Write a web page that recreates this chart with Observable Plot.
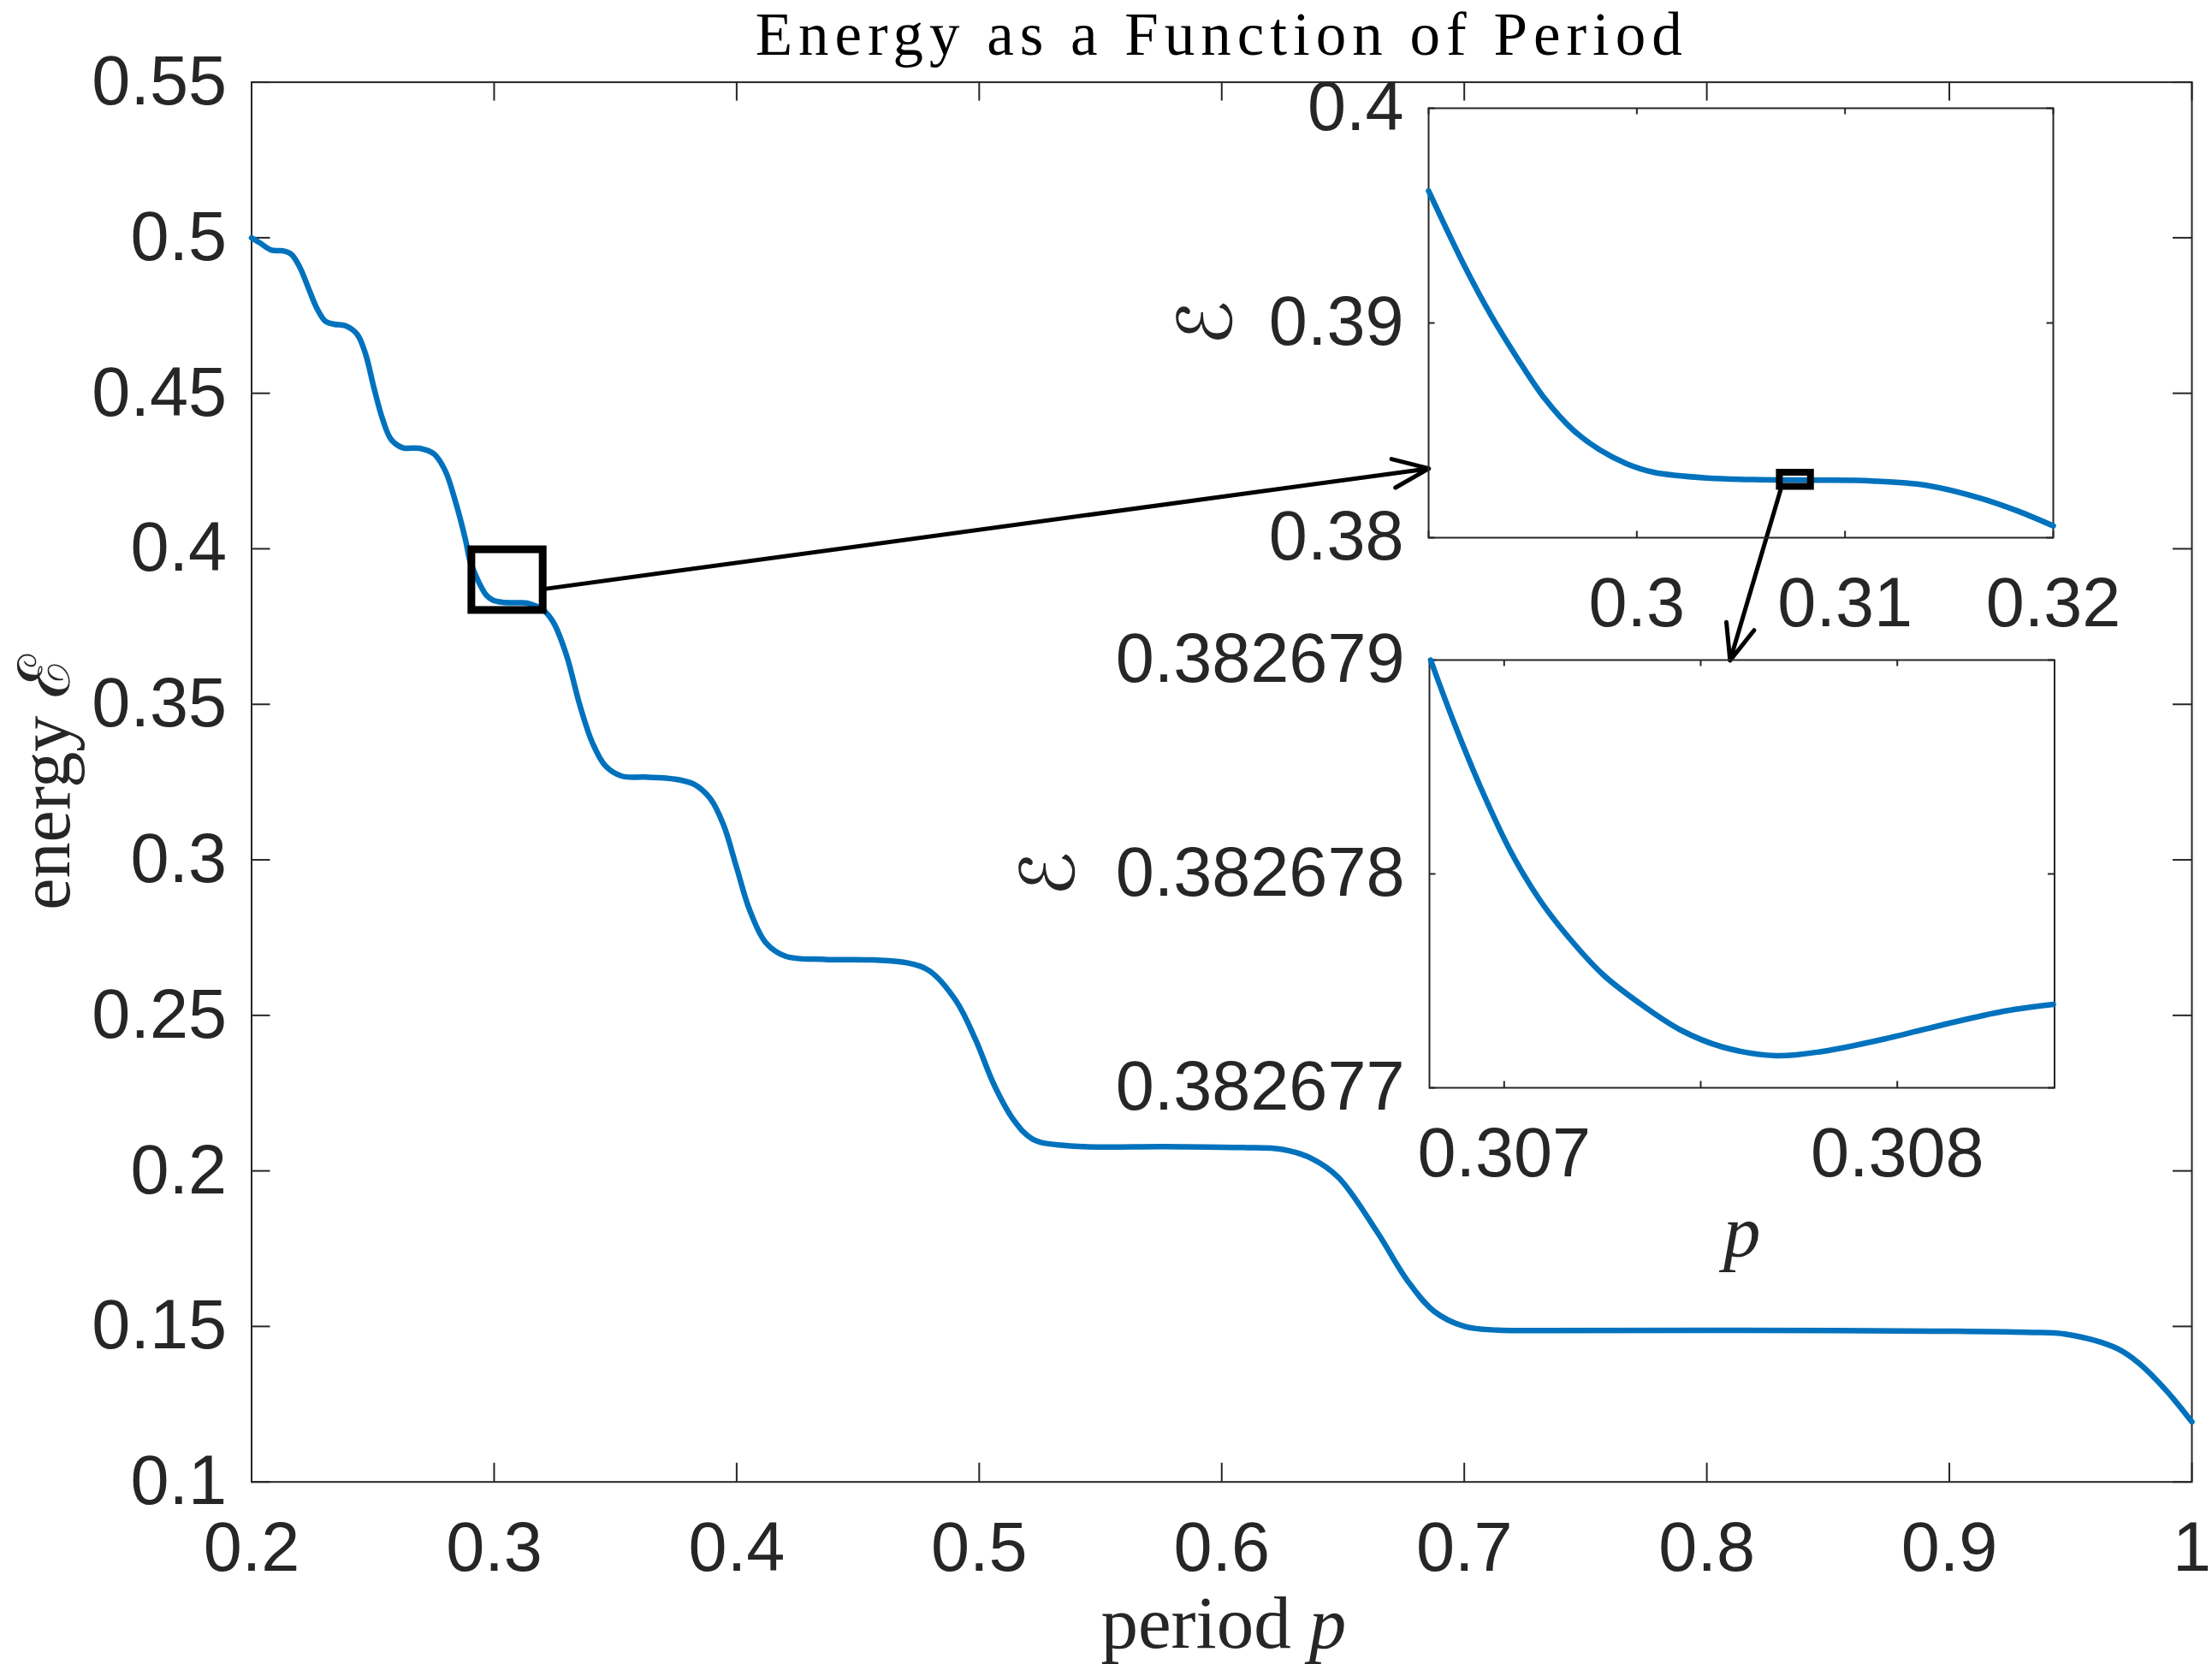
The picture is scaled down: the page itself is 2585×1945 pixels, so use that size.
<!DOCTYPE html>
<html>
<head>
<meta charset="utf-8">
<script src="https://cdn.jsdelivr.net/npm/d3@7"></script>
<script src="https://cdn.jsdelivr.net/npm/@observablehq/plot@0.6"></script>
<style>
  html, body { margin: 0; padding: 0; background: #ffffff; }
  #wrap { position: relative; width: 2585px; height: 1945px; overflow: hidden; background: #ffffff; }
  #wrap svg { position: absolute; }
</style>
</head>
<body>
<div id="wrap"></div>
<script>
// ---------------- DATA ----------------
const titleText = "Energy as a Function of Period";
const xLabelWord = "period";
const xLabelVar = "p";
const yLabelText = "energy ℰ";
const insetYLabel = "ℰ";
const insetXLabel = "p";

// main curve: period p vs energy E
const mainP = [0.2000, 0.2035, 0.2082, 0.2129, 0.2164, 0.2199, 0.2235, 0.2270, 0.2305, 0.2341,
  0.2387, 0.2435, 0.2470, 0.2505, 0.2541, 0.2576, 0.2623, 0.2693, 0.2752, 0.2799,
  0.2835, 0.2882, 0.2900, 0.2917, 0.2943, 0.2969, 0.2995, 0.3034, 0.3082, 0.3113,
  0.3139, 0.3165, 0.3183, 0.3200, 0.3244, 0.3298, 0.3352, 0.3406, 0.3460, 0.3527,
  0.3622, 0.3730, 0.3824, 0.3892, 0.3946, 0.4000, 0.4054, 0.4121, 0.4202, 0.4365,
  0.4567, 0.4702, 0.4795, 0.4906, 0.4985, 0.5063, 0.5142, 0.5221, 0.5378, 0.5772,
  0.6087, 0.6250, 0.6370, 0.6481, 0.6638, 0.6765, 0.6875, 0.7001, 0.7139, 0.7316,
  0.8516, 0.9315, 0.9480, 0.9692, 0.9786, 0.9892, 1.0000];
const mainE = [0.5000, 0.4983, 0.4960, 0.4958, 0.4947, 0.4905, 0.4837, 0.4772, 0.4731, 0.4722,
  0.4717, 0.4690, 0.4626, 0.4516, 0.4415, 0.4351, 0.4325, 0.4323, 0.4305, 0.4250,
  0.4167, 0.4029, 0.3962, 0.3928, 0.3883, 0.3850, 0.3835, 0.3828, 0.38268, 0.38266,
  0.38246, 0.38184, 0.38124, 0.38055, 0.3764, 0.3659, 0.3501, 0.3375, 0.3301, 0.3269,
  0.3266, 0.3261, 0.3243, 0.3196, 0.3112, 0.2975, 0.2838, 0.2733, 0.2690, 0.2680,
  0.2678, 0.2669, 0.2643, 0.2545, 0.2422, 0.2274, 0.2164, 0.2102, 0.2080, 0.2078,
  0.2075, 0.2069, 0.2040, 0.1979, 0.1807, 0.1648, 0.1549, 0.1500, 0.1488, 0.1487,
  0.1487, 0.1481, 0.1475, 0.1429, 0.1379, 0.1296, 0.1193];

// first zoom: p in [0.29, 0.32]
const zoom1P = [0.2900, 0.2917, 0.2930, 0.2943, 0.2956, 0.2969, 0.2982, 0.2995, 0.3008, 0.3034,
  0.3060, 0.3087, 0.3113, 0.3139, 0.3165, 0.3183, 0.3200];
const zoom1E = [0.39615, 0.39270, 0.39035, 0.38830, 0.38645, 0.38505, 0.38410, 0.38345, 0.38305, 0.38278,
  0.38270, 0.38268, 0.38264, 0.38244, 0.38184, 0.38124, 0.38055];

// second zoom: p in [0.30681, 0.30840]
const zoom2P = [0.306813, 0.306874, 0.306946, 0.307018, 0.307090, 0.307161, 0.307251, 0.307341,
  0.307449, 0.307557, 0.307692, 0.307809, 0.307971, 0.308151, 0.308277, 0.308397];
const zoom2E = [0.38267900, 0.38267870, 0.38267838, 0.38267810, 0.38267788, 0.38267771, 0.38267753, 0.38267740,
  0.38267727, 0.38267719, 0.38267715, 0.38267717, 0.38267723, 0.38267731, 0.38267736, 0.38267739];

// tick values
const mainXTicks = [0.2, 0.3, 0.4, 0.5, 0.6, 0.7, 0.8, 0.9, 1];
const mainYTicks = [0.1, 0.15, 0.2, 0.25, 0.3, 0.35, 0.4, 0.45, 0.5, 0.55];
const zoom1XTicks = [0.29, 0.3, 0.31, 0.32];
const zoom1XLabels = [0.3, 0.31, 0.32];
const zoom1YTicks = [0.38, 0.39, 0.4];
const zoom2XTicks = [0.307, 0.3075, 0.308];
const zoom2XLabels = [0.307, 0.308];
const zoom2YTicks = [0.382677, 0.382678, 0.382679];

// domains
const mainXDomain = [0.2, 1];
const mainYDomain = [0.1, 0.55];
const zoom1XDomain = [0.29, 0.32];
const zoom1YDomain = [0.38, 0.40];
const zoom2XDomain = [0.30681, 0.30840];
const zoom2YDomain = [0.382677, 0.382679];

// annotation boxes (data units of the axes they are drawn in)
const mainBox = [{p1: 0.2908, p2: 0.3202, e1: 0.3802, e2: 0.3997}];
const zoom1Box = [{p1: 0.306865, p2: 0.30836, e1: 0.382371, e2: 0.383028}];
// arrows in main-axes data units
const arrows = [
  {p1: 0.3209, e1: 0.3871, p2: 0.6854, e2: 0.4258},
  {p1: 0.8304, e1: 0.4189, p2: 0.8096, e2: 0.3641}
];

// ---------------- STYLE ----------------
const W = 2585, H = 1945;
const blue = "#0072BD";
const axisColor = "#262626";
const sans = "Liberation Sans, Arial, Helvetica, sans-serif";
const serif = "Liberation Serif, Times New Roman, serif";
const scriptFont = "DejaVu Serif, DejaVu Sans, serif";
const tickFont = 81;
const labelFont = 87;
const curveWidth = 6.5;

const toRows = (P, E) => P.map((p, i) => ({p, e: E[i]}));
const mainRows = toRows(mainP, mainE);
const zoom1Rows = toRows(zoom1P, zoom1E);
const zoom2Rows = toRows(zoom2P, zoom2E);

function boxTicks(xTicks, yTicks, innerW, innerH, len) {
  const s = {stroke: axisColor, strokeWidth: 2};
  return [
    Plot.tickX(xTicks, {x: d => d, insetTop: innerH - len, ...s}),
    Plot.tickX(xTicks, {x: d => d, insetBottom: innerH - len, ...s}),
    Plot.tickY(yTicks, {y: d => d, insetRight: innerW - len, ...s}),
    Plot.tickY(yTicks, {y: d => d, insetLeft: innerW - len, ...s})
  ];
}
function tickLabels(xLabels, yLabels) {
  const t = {tickSize: 0, fontSize: tickFont, fontFamily: sans, color: axisColor, tickFormat: d => String(d), label: null};
  return [
    Plot.axisX(xLabels, {...t, tickPadding: 46}),
    Plot.axisY(yLabels, {...t, tickPadding: 29})
  ];
}

const wrap = document.getElementById("wrap");

// ---------------- MAIN AXES ----------------
const mL = 293.5, mR = 24, mT = 95.6, mB = 213.3;
const mW = W - mL - mR, mH = H - mT - mB;
const main = Plot.plot({
  width: W, height: H,
  marginLeft: mL, marginRight: mR, marginTop: mT, marginBottom: mB,
  x: {domain: mainXDomain, axis: null},
  y: {domain: mainYDomain, axis: null},
  style: {background: "white", overflow: "visible"},
  marks: [
    ...boxTicks(mainXTicks, mainYTicks, mW, mH, 22),
    ...tickLabels(mainXTicks, mainYTicks),
    Plot.frame({stroke: axisColor, strokeWidth: 2}),
    Plot.line(mainRows, {x: "p", y: "e", stroke: blue, strokeWidth: curveWidth, curve: "catmull-rom"}),
    Plot.rect(mainBox, {x1: "p1", x2: "p2", y1: "e1", y2: "e2", fill: "none", stroke: "black", strokeWidth: 9}),
    Plot.arrow(arrows, {x1: "p1", y1: "e1", x2: "p2", y2: "e2", stroke: "black", strokeWidth: 5, headLength: 13.5, headAngle: 44}),
    Plot.text([titleText], {frameAnchor: "top", dy: 63 - mT, lineAnchor: "bottom", fontSize: 71, fontFamily: serif, fill: "#000"}),
    Plot.text([xLabelWord], {frameAnchor: "bottom", dx: 81, dy: 1925 - (H - mB), lineAnchor: "bottom", textAnchor: "end", fontSize: labelFont, fontFamily: serif, fill: axisColor}),
    Plot.text([xLabelVar], {frameAnchor: "bottom", dx: 102, dy: 1925 - (H - mB), lineAnchor: "bottom", textAnchor: "start", fontSize: labelFont, fontFamily: serif, fontStyle: "italic", fill: axisColor}),
    Plot.text([yLabelText], {frameAnchor: "left", dx: 80 - mL, rotate: -90, lineAnchor: "bottom", textAnchor: "middle", fontSize: 84, fontFamily: serif + ", DejaVu Serif", fill: axisColor})
  ]
});
main.style.left = "0px"; main.style.top = "0px";
d3.select(main).selectAll("text").filter(function() { return this.textContent === titleText; }).style("letter-spacing", "7px");
wrap.appendChild(main);

// ---------------- INSET 1 ----------------
const i1 = {left: 1669, top: 126, w: 730, h: 502, mL: 400, mR: 110, mT: 10, mB: 130};
const inset1 = Plot.plot({
  width: i1.mL + i1.w + i1.mR, height: i1.mT + i1.h + i1.mB,
  marginLeft: i1.mL, marginRight: i1.mR, marginTop: i1.mT, marginBottom: i1.mB,
  x: {domain: zoom1XDomain, axis: null},
  y: {domain: zoom1YDomain, axis: null},
  style: {background: "transparent", overflow: "visible"},
  marks: [
    ...boxTicks(zoom1XTicks, zoom1YTicks, i1.w, i1.h, 7.5),
    ...tickLabels(zoom1XLabels, zoom1YTicks),
    Plot.frame({stroke: axisColor, strokeWidth: 2}),
    Plot.line(zoom1Rows, {x: "p", y: "e", stroke: blue, strokeWidth: curveWidth, curve: "catmull-rom"}),
    Plot.rect(zoom1Box, {x1: "p1", x2: "p2", y1: "e1", y2: "e2", fill: "none", stroke: "black", strokeWidth: 8}),
    Plot.text([insetYLabel], {frameAnchor: "left", dx: 1411 - i1.left, rotate: -90, lineAnchor: "middle", textAnchor: "middle", fontSize: labelFont, fontFamily: scriptFont, fill: axisColor})
  ]
});
inset1.style.left = (i1.left - i1.mL) + "px";
inset1.style.top = (i1.top - i1.mT) + "px";
wrap.appendChild(inset1);

// ---------------- INSET 2 ----------------
const i2 = {left: 1669.5, top: 771, w: 730.5, h: 500, mL: 520, mR: 80, mT: 10, mB: 240};
const inset2 = Plot.plot({
  width: i2.mL + i2.w + i2.mR, height: i2.mT + i2.h + i2.mB,
  marginLeft: i2.mL, marginRight: i2.mR, marginTop: i2.mT, marginBottom: i2.mB,
  x: {domain: zoom2XDomain, axis: null},
  y: {domain: zoom2YDomain, axis: null},
  style: {background: "transparent", overflow: "visible"},
  marks: [
    ...boxTicks(zoom2XTicks, zoom2YTicks, i2.w, i2.h, 7.5),
    ...tickLabels(zoom2XLabels, zoom2YTicks),
    Plot.frame({stroke: axisColor, strokeWidth: 2}),
    Plot.line(zoom2Rows, {x: "p", y: "e", stroke: blue, strokeWidth: curveWidth, curve: "catmull-rom"}),
    Plot.text([insetYLabel], {frameAnchor: "left", dx: 1226 - i2.left, rotate: -90, lineAnchor: "middle", textAnchor: "middle", fontSize: labelFont, fontFamily: scriptFont, fill: axisColor}),
    Plot.text([insetXLabel], {frameAnchor: "bottom", dy: 1467 - (i2.top + i2.h), lineAnchor: "bottom", textAnchor: "middle", fontSize: labelFont, fontFamily: serif, fontStyle: "italic", fill: axisColor})
  ]
});
inset2.style.left = (i2.left - i2.mL) + "px";
inset2.style.top = (i2.top - i2.mT) + "px";
wrap.appendChild(inset2);
</script>
</body>
</html>
